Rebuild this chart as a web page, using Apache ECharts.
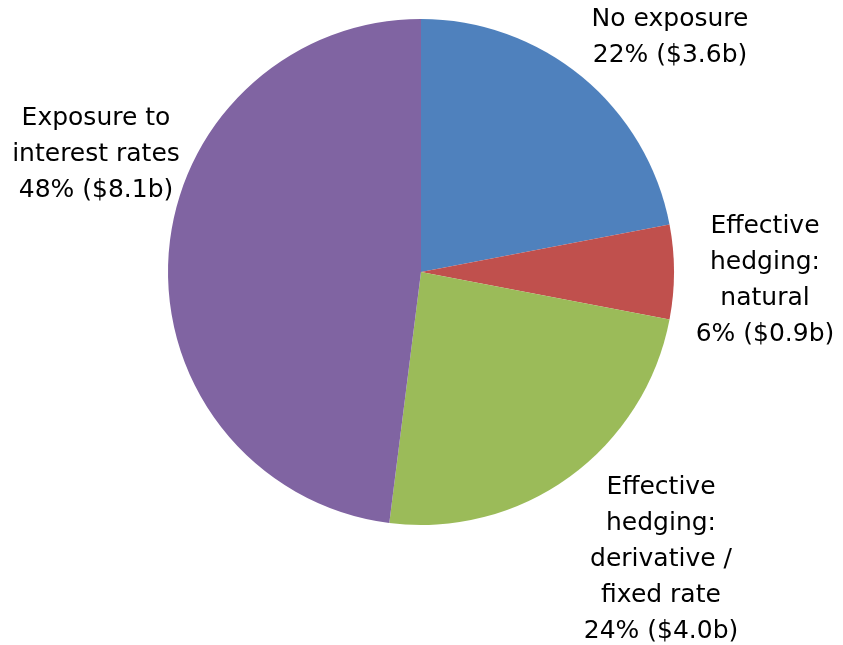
<!DOCTYPE html>
<html>
<head>
<meta charset="utf-8">
<title>Interest rate exposure</title>
<script src="https://cdn.jsdelivr.net/npm/echarts@6/dist/echarts.min.js"></script>
<style>
  html, body { margin: 0; padding: 0; background: #ffffff; }
  #chart { width: 843px; height: 645px; }
</style>
</head>
<body>
<div id="chart"></div>
<script>
// Exposure categories, share of total (%) and amount ($b)
const categories = [
  'No exposure',
  'Effective\nhedging:\nnatural',
  'Effective\nhedging:\nderivative /\nfixed rate',
  'Exposure to\ninterest rates'
];
const shares = [22, 6, 24, 48];
const amounts = ['3.6', '0.9', '4.0', '8.1'];

const colors = ['#4F81BD', '#C0504D', '#9BBB59', '#8064A2'];

// Pie geometry and where each label block sits, relative to the pie centre
const pieCenter = [421, 272];
const pieRadius = 253;
const labelOffsets = [[249, -235], [344, 8], [240, 287], [-325, -118]];

const chart = echarts.init(document.getElementById('chart'));

chart.setOption({
  animation: false,
  backgroundColor: '#ffffff',
  series: [{
    type: 'pie',
    center: pieCenter,
    radius: pieRadius,
    startAngle: 90,
    clockwise: true,
    avoidLabelOverlap: false,
    emphasis: { disabled: true },
    itemStyle: { borderWidth: 0 },
    label: {
      show: true,
      position: 'outside',
      color: '#000000',
      fontFamily: 'DejaVu Sans',
      fontSize: 25,
      lineHeight: 36,
      formatter: p => p.name + '\n' + p.value + '% ($' + amounts[p.dataIndex] + 'b)'
    },
    labelLine: { show: false },
    labelLayout: p => ({
      x: pieCenter[0] + labelOffsets[p.dataIndex][0],
      y: pieCenter[1] + labelOffsets[p.dataIndex][1],
      align: 'center',
      verticalAlign: 'middle'
    }),
    data: categories.map((name, i) => ({
      name: name,
      value: shares[i],
      itemStyle: { color: colors[i] }
    }))
  }]
});
</script>
</body>
</html>
